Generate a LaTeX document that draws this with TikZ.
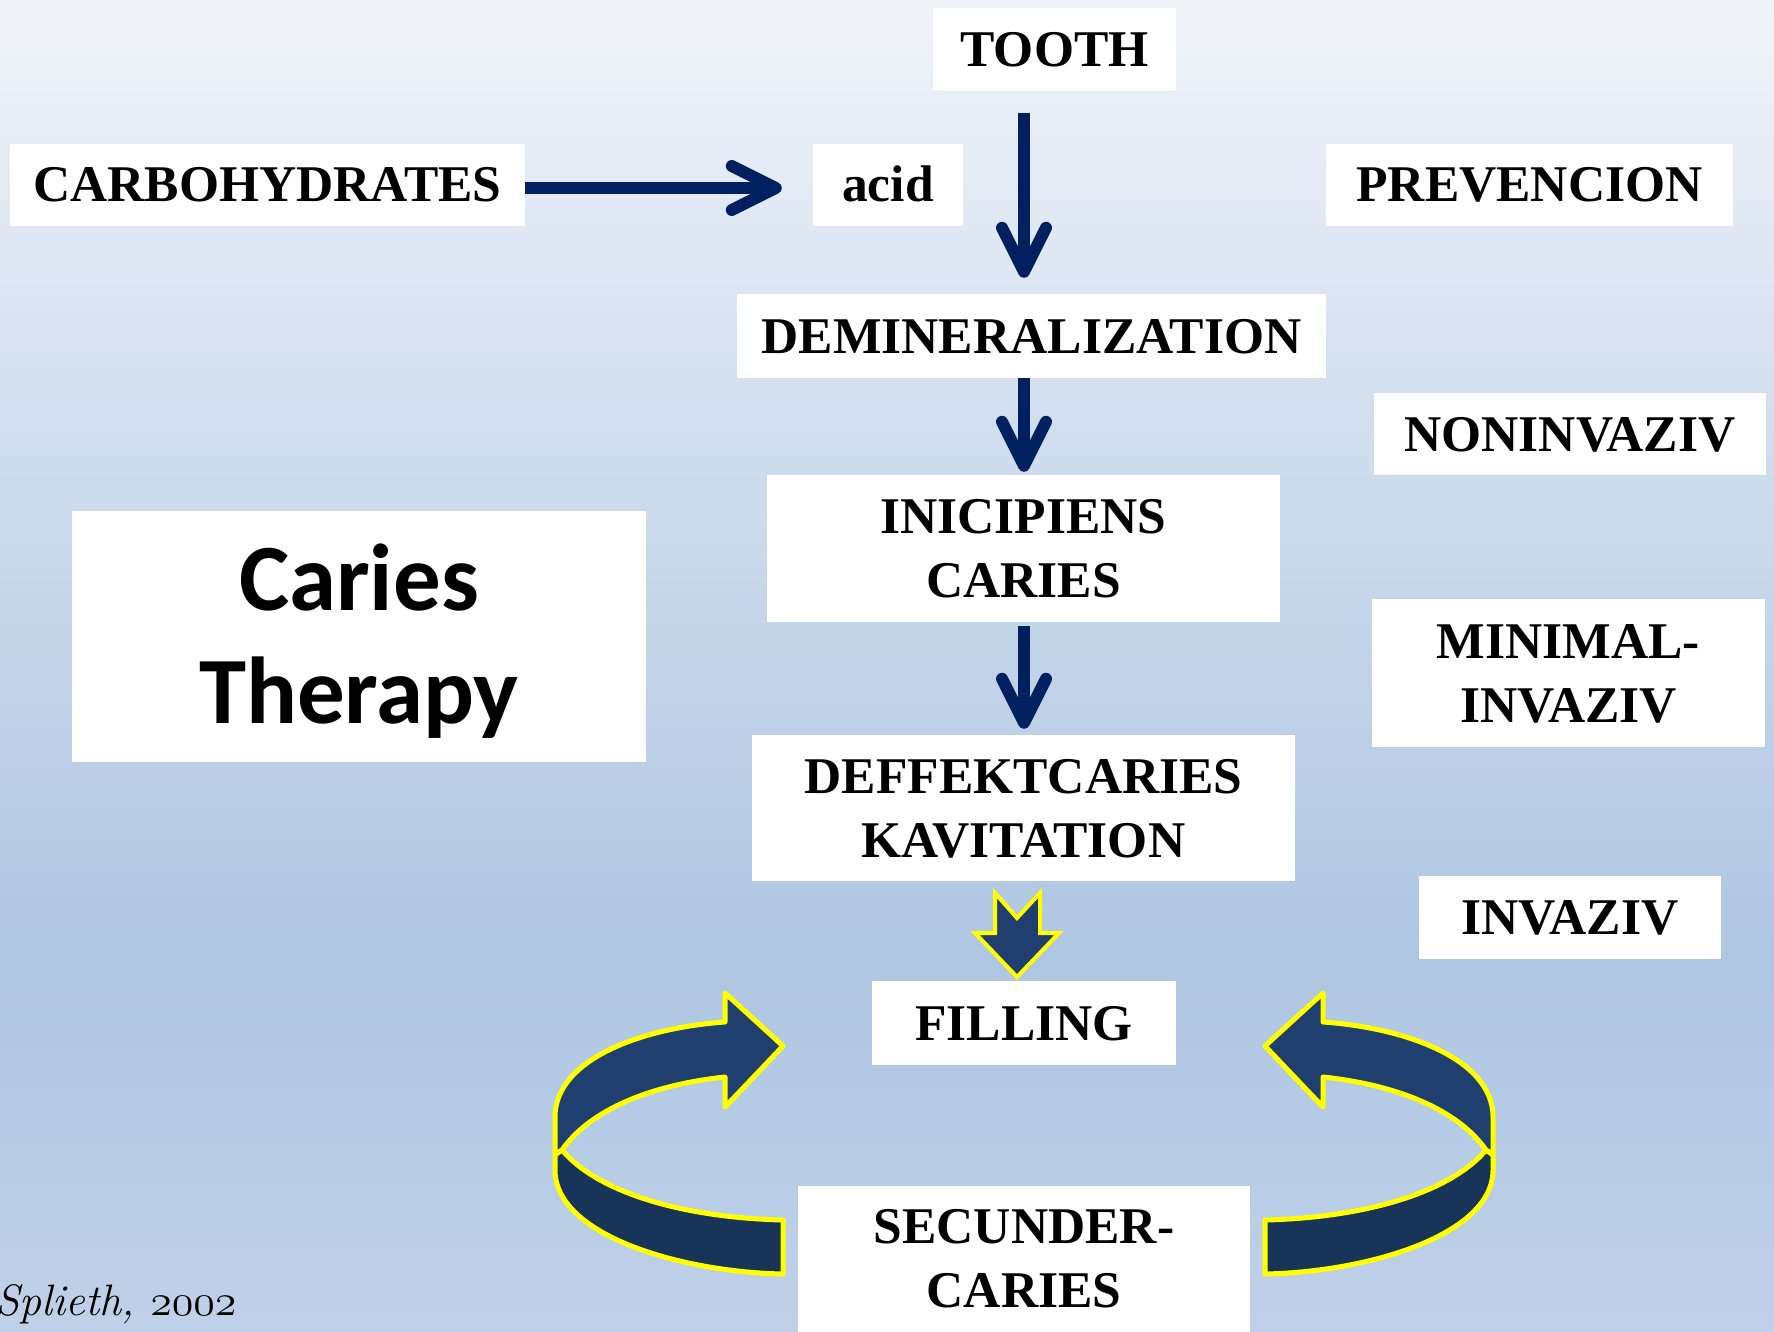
\documentclass[tikz,border=0pt]{standalone}
\usepackage{fontspec}
\newfontfamily\tnr{Liberation Serif}
\newfontfamily\calib{Carlito}
\usetikzlibrary{arrows.meta}
\definecolor{navy}{HTML}{002060}
\definecolor{upband}{HTML}{1F406E}
\definecolor{lowband}{HTML}{183458}
\definecolor{hlyellow}{HTML}{FFFF00}
\definecolor{bgA}{HTML}{BFD1E8}
\definecolor{bgB}{HTML}{AFC6E2}
\definecolor{bgC}{HTML}{CFDCED}
\definecolor{bgD}{HTML}{F1F4F9}
\pgfdeclareverticalshading{bgshade}{100bp}{color(0bp)=(bgA); color(25bp)=(bgA); color(39bp)=(bgB); color(57.5bp)=(bgC); color(75bp)=(bgD); color(100bp)=(bgD)}
\begin{document}
\begin{tikzpicture}[x=1pt,y=-1pt,
  box/.style={fill=white, inner sep=0pt, align=center, font=\tnr\bfseries\fontsize{51.5}{64}\selectfont, text height=34pt, text depth=0pt},
  box2/.style={box, text height=98pt},
  navyarr/.style={draw=navy, line width=12pt, -{Straight Barb[length=44pt,width=44pt,round]}},
  band/.style={draw=hlyellow, line width=5pt, line join=round},
]
\useasboundingbox (0,0) rectangle (1774,1332);
\shade[shading=bgshade] (0,0) rectangle (1774,1332);

\node[box, minimum width=243pt, minimum height=83pt] (tooth) at (1054.5,49.5) {TOOTH};
\node[box, minimum width=515pt, minimum height=82pt] (carb) at (267.5,185) {CARBOHYDRATES};
\node[box, minimum width=150pt, minimum height=82pt] (acid) at (888,185) {acid};
\node[box, minimum width=407pt, minimum height=82pt] (prev) at (1529.5,185) {PREVENCION};
\node[box, minimum width=589pt, minimum height=84pt] (demin) at (1031.5,336) {DEMINERALIZATION};
\node[box, minimum width=392pt, minimum height=82pt] (nonin) at (1570,434) {NONINVAZIV};
\node[box2, minimum width=513pt, minimum height=147pt] (inic) at (1023.5,548.5) {INICIPIENS\\CARIES};
\node[box2, minimum width=393pt, minimum height=148pt] (minim) at (1568.5,673) {MINIMAL-\\INVAZIV};
\node[box2, minimum width=543pt, minimum height=146pt] (deff) at (1023.5,808) {DEFFEKTCARIES\\KAVITATION};
\node[box, minimum width=302pt, minimum height=83pt] (inv) at (1570,917.5) {INVAZIV};
\node[box, minimum width=304pt, minimum height=84pt] (filling) at (1024,1023) {FILLING};
\node[box2, minimum width=452pt, minimum height=146pt] (secund) at (1024,1258.5) {SECUNDER-\\CARIES};
\node[fill=white, inner sep=0pt, minimum width=574pt, minimum height=251pt, align=center,
  font=\calib\bfseries\fontsize{95}{113}\selectfont, text height=174pt, text depth=0pt]
  (title) at (359,636.5) {Caries\\Therapy};
\node[anchor=base west, inner sep=0pt, font=\itshape\fontsize{44}{52}\selectfont] (cite) at (-5,1315)
  {Splieth, \scalebox{1.77}{\fontsize{24.88}{30}\usefont{OML}{cmm}{m}{it}2002}};

\coordinate (axis) at (1024,0);
\draw[navyarr] ([yshift=-3pt]carb.east) -- ([xshift=-31pt,yshift=-3pt]acid.west);
\draw[navyarr] ([yshift=-22pt]tooth.south -| axis) -- ([yshift=16pt]demin.north -| axis);
\draw[navyarr] (demin.south -| axis) -- ([yshift=3pt]inic.north -| axis);
\draw[navyarr] ([yshift=-4pt]inic.south -| axis) -- ([yshift=6pt]deff.north -| axis);

% block arrow deff -> filling
\draw[fill=upband, draw=hlyellow, line width=4pt, line join=miter]
  (995,893) -- (1017,918) -- (1040,893) -- (1040,933) -- (1059,933) -- (1017,977)
  -- (975,933) -- (995,933) -- cycle;

% curved arrows (left, then mirrored right)
\foreach \sh/\sc in {0/1, 2048/-1}{
\begin{scope}[xshift=\sh pt, xscale=\sc]
\draw[band, fill=upband]
  (562,1150) .. controls (590,1110) and (650,1085) .. (725,1077) -- (725,1107) -- (783,1046)
  -- (725,993) -- (725,1022) .. controls (640,1028) and (555,1060) .. (555,1117)
  -- (555,1155) -- cycle;
\draw[band, fill=lowband]
  (555,1155) -- (562,1150) .. controls (600,1195) and (690,1218) .. (783,1220)
  -- (783,1274) .. controls (680,1272) and (555,1235) .. (555,1170) -- cycle;
\end{scope}
}
\end{tikzpicture}
\end{document}
